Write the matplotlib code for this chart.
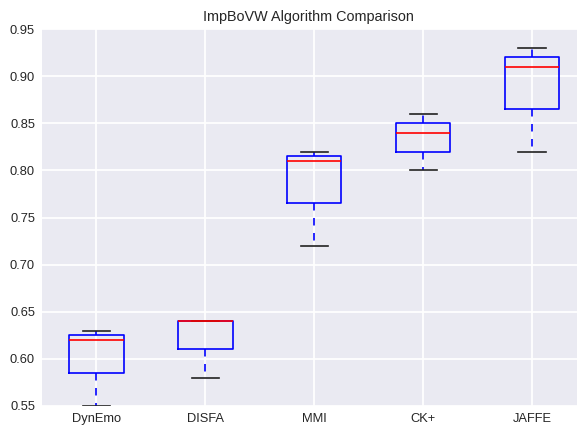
import matplotlib
matplotlib.use('Agg')
import matplotlib.pyplot as plt

labels = ['DynEmo', 'DISFA', 'MMI', 'CK+', 'JAFFE']
whislo = [0.55, 0.58, 0.72, 0.80, 0.82]
q1 = [0.585, 0.61, 0.765, 0.82, 0.865]
med = [0.62, 0.64, 0.81, 0.84, 0.91]
q3 = [0.625, 0.64, 0.815, 0.85, 0.92]
whishi = [0.63, 0.64, 0.82, 0.86, 0.93]
yticks = [0.55, 0.60, 0.65, 0.70, 0.75, 0.80, 0.85, 0.90, 0.95]

plt.rcParams['font.family'] = ['Liberation Sans', 'DejaVu Sans']

stats = [
    {'label': lab, 'whislo': lo, 'q1': a, 'med': m, 'q3': b, 'whishi': hi, 'fliers': []}
    for lab, lo, a, m, b, hi in zip(labels, whislo, q1, med, q3, whishi)
]

fig = plt.figure(figsize=(5.77, 4.28), dpi=100)
ax = fig.add_axes([42 / 577, 22 / 428, 544.5 / 577, 377 / 428])
ax.set_facecolor('#EAEAF2')
ax.set_axisbelow(True)
ax.grid(True, color='white', linewidth=1.3)
for sp in ax.spines.values():
    sp.set_visible(False)

ax.bxp(stats, widths=0.5, showfliers=False,
       boxprops=dict(color='blue', linewidth=1.2),
       medianprops=dict(color='red', linewidth=1.2),
       whiskerprops=dict(color='blue', linewidth=1.2, linestyle=(0, (4.5, 4.5))),
       capprops=dict(color='#222222', linewidth=1.2))

ax.set_xlim(0.5, 5.5)
ax.set_ylim(0.55, 0.95)
ax.set_yticks(yticks)
ax.set_yticklabels([f'{v:.2f}' for v in yticks])
ax.tick_params(length=0, labelsize=9.3, colors='#262626', pad=5)
ax.set_title('ImpBoVW Algorithm Comparison', fontsize=10.4, color='#262626',
             pad=6, x=0.489)

fig.savefig('out.png', dpi=100)
